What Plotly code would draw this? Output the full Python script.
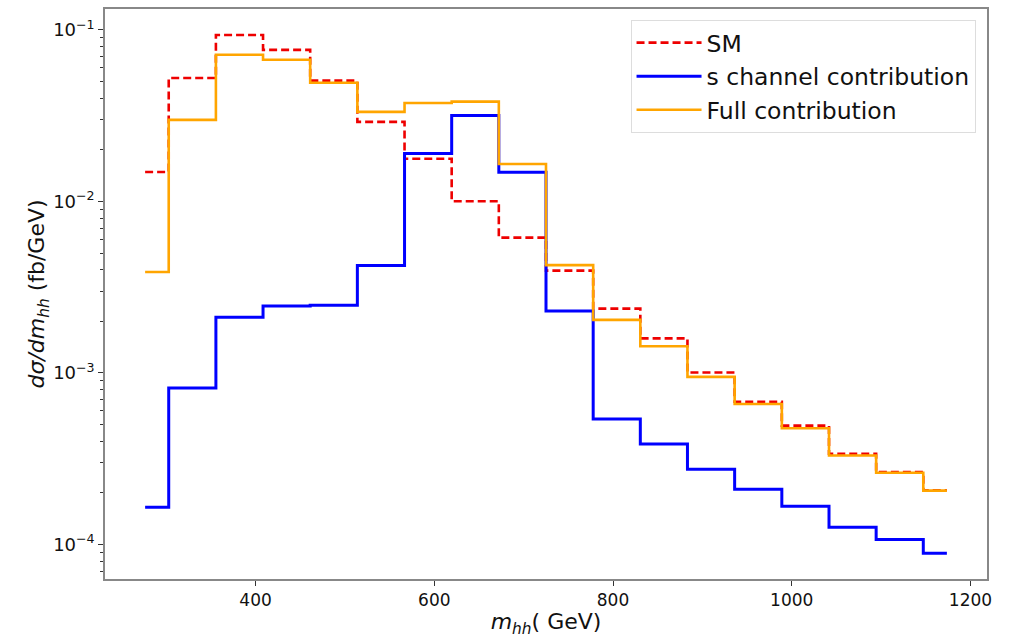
import numpy as np
import plotly.graph_objects as go

# bin centres (GeV)
m_hh = [276.4, 329.2, 382.0, 434.7, 487.5, 540.3, 593.1, 645.8, 698.6,
        751.4, 804.2, 856.9, 909.7, 962.5, 1015.3, 1068.1, 1120.8, 1173.6]

sm = [0.01485, 0.0524, 0.0935, 0.0765, 0.0506, 0.0291, 0.01774, 0.01002, 0.00615,
      0.00395, 0.00237, 0.00159, 0.001005, 0.000679, 0.000493, 0.000338, 0.000264, 0.000207]

s_channel = [0.000165, 0.000818, 0.00211, 0.00246, 0.00248, 0.00423, 0.01905, 0.0317, 0.0148,
             0.0023, 0.000538, 0.000385, 0.000274, 0.00021, 0.000167, 0.000126, 0.000107, 0.0000887]

full = [0.00388, 0.0299, 0.0716, 0.0670, 0.0492, 0.0333, 0.0375, 0.0382, 0.01652,
        0.00425, 0.00204, 0.00143, 0.000948, 0.000659, 0.000476, 0.00033, 0.000262, 0.000206]

major_vals = [1e-4, 1e-3, 1e-2, 1e-1]
major_text = ["10<sup>\u22124</sup>", "10<sup>\u22123</sup>", "10<sup>\u22122</sup>", "10<sup>\u22121</sup>"]
minor_vals = [k * 10.0**e for e in range(-5, 0) for k in range(2, 10)]

FONT = "DejaVu Sans, Liberation Sans, sans-serif"

fig = go.Figure()
fig.add_trace(go.Scatter(x=m_hh, y=sm, mode="lines", name="SM",
                         line=dict(color="#ee0000", width=2.6, dash="8px,4px", shape="hvh")))
fig.add_trace(go.Scatter(x=m_hh, y=s_channel, mode="lines", name="s channel contribution",
                         line=dict(color="#0000ff", width=3, shape="hvh")))
fig.add_trace(go.Scatter(x=m_hh, y=full, mode="lines", name="Full contribution",
                         line=dict(color="#ffa500", width=2.6, shape="hvh")))

fig.update_layout(
    width=1012, height=638,
    margin=dict(l=105, r=25, t=7, b=59),
    paper_bgcolor="white", plot_bgcolor="white",
    font=dict(family=FONT, color="#111111"),
    showlegend=True,
    legend=dict(x=0.987, y=0.981, xanchor="right", yanchor="top",
                bgcolor="white", bordercolor="#dddddd", borderwidth=1,
                font=dict(size=23.5, family=FONT), itemwidth=65,
                tracegroupgap=0),
    xaxis=dict(range=[231.5, 1218.5], showgrid=False, zeroline=False,
               showline=True, linecolor="#888888", linewidth=1.5, mirror=True,
               ticks="outside", ticklen=5, tickcolor="#333333",
               tickvals=[400, 600, 800, 1000, 1200],
               tickfont=dict(size=17, family=FONT),
               title=dict(text="<i>m<sub>hh</sub></i>( GeV)", font=dict(size=22, family=FONT),
                          standoff=0)),
    yaxis=dict(type="log", range=[-4.2015, -0.878], showgrid=False, zeroline=False,
               showline=True, linecolor="#888888", linewidth=1.5, mirror=True,
               ticks="outside", ticklen=5, tickcolor="#333333",
               tickvals=major_vals, ticktext=major_text,
               tickfont=dict(size=18, family=FONT),
               minor=dict(tickvals=minor_vals, ticks="outside", ticklen=3, tickcolor="#333333",
                          showgrid=False),
               title=dict(text="<i>d\u03c3/dm<sub>hh</sub></i> (fb/GeV)", font=dict(size=22, family=FONT),
                          standoff=2)),
)

fig.write_html("out.html", config={"displayModeBar": False},
               post_script="document.body.style.margin='0';")
